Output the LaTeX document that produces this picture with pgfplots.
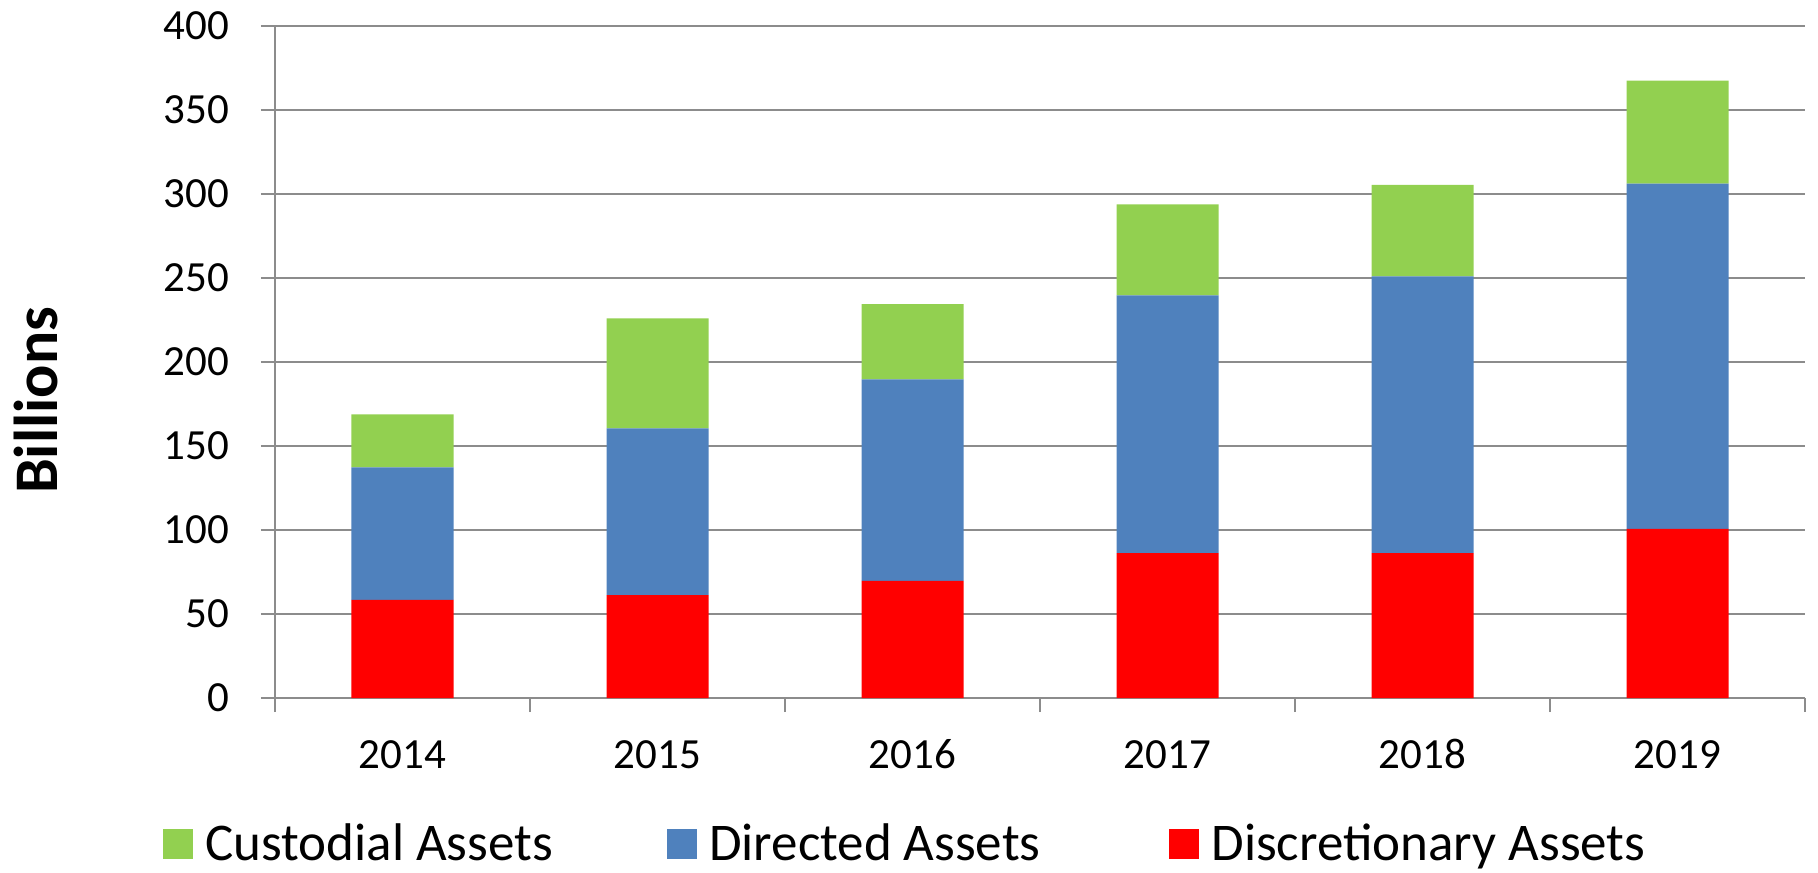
\documentclass[border=0pt]{standalone}
\usepackage{fontspec}
\setmainfont{Carlito}
\usepackage{pgfplots}
\pgfplotsset{compat=1.18}
\definecolor{custgreen}{HTML}{92D050}
\definecolor{dirblue}{HTML}{4F81BD}
\definecolor{discred}{HTML}{FF0000}
\definecolor{gridgray}{HTML}{8C8C8C}

\pgfplotstableread{
x disc dir cust
0 58.4 78.9 31.5
1 61.3 99.2 65.5
2 69.7 120.0 44.8
3 86.2 153.4 54.2
4 86.2 164.8 54.4
5 100.7 205.5 61.3
}\assets

\begin{document}
\begin{tikzpicture}
\path[use as bounding box] (-137.5pt,-87pt) rectangle (771.5pt,349pt);
\begin{axis}[
  at={(0,0)}, anchor=south west,
  scale only axis,
  width=765pt, height=336pt,
  ybar stacked,
  bar width=0.4,
  xmin=-0.5, xmax=5.5,
  ymin=0, ymax=400,
  xtick={0,...,5},
  xticklabels={2014,2015,2016,2017,2018,2019},
  minor xtick={-0.5,0.5,...,5.5},
  ytick={0,50,...,400},
  tick align=outside,
  major tick length=7pt,
  minor tick length=7pt,
  x tick style={draw=none},
  minor x tick style={draw=gridgray, line width=1pt},
  y tick style={draw=gridgray, line width=1pt},
  axis x line*=bottom,
  axis y line*=left,
  axis line style={draw=gridgray, line width=1pt, -},
  ymajorgrids=true,
  grid style={draw=gridgray, line width=1pt},
  tick label style={font=\fontsize{21.5}{24}\selectfont},
  /pgf/number format/assume math mode=true,
  xticklabel style={anchor=base, yshift=-28pt},
  yticklabel style={xshift=-12.5pt},
  ylabel={\bfseries Billions},
  ylabel style={font=\fontsize{31}{35}\selectfont, at={(axis description cs:-0.156,0.443)}, anchor=center},
  reverse legend,
  legend columns=3,
  legend style={
    at={(axis description cs:-0.0771,-0.217)}, anchor=west,
    draw=none, fill=none,
    font=\fontsize{26.5}{30}\selectfont,
    /tikz/every odd column/.append style={column sep=4pt},
    /tikz/column 2/.style={column sep=55pt},
    /tikz/column 4/.style={column sep=62.5pt},
  },
  legend image code/.code={\fill[#1] (0pt,-7.5pt) rectangle (15pt,7.5pt);},
]
\addplot[fill=discred, draw=none] table[x=x,y=disc] {\assets};
\addplot[fill=dirblue, draw=none] table[x=x,y=dir] {\assets};
\addplot[fill=custgreen, draw=none] table[x=x,y=cust] {\assets};
\legend{Discretionary Assets, Directed Assets, Custodial Assets}
\end{axis}
\end{tikzpicture}
\end{document}
